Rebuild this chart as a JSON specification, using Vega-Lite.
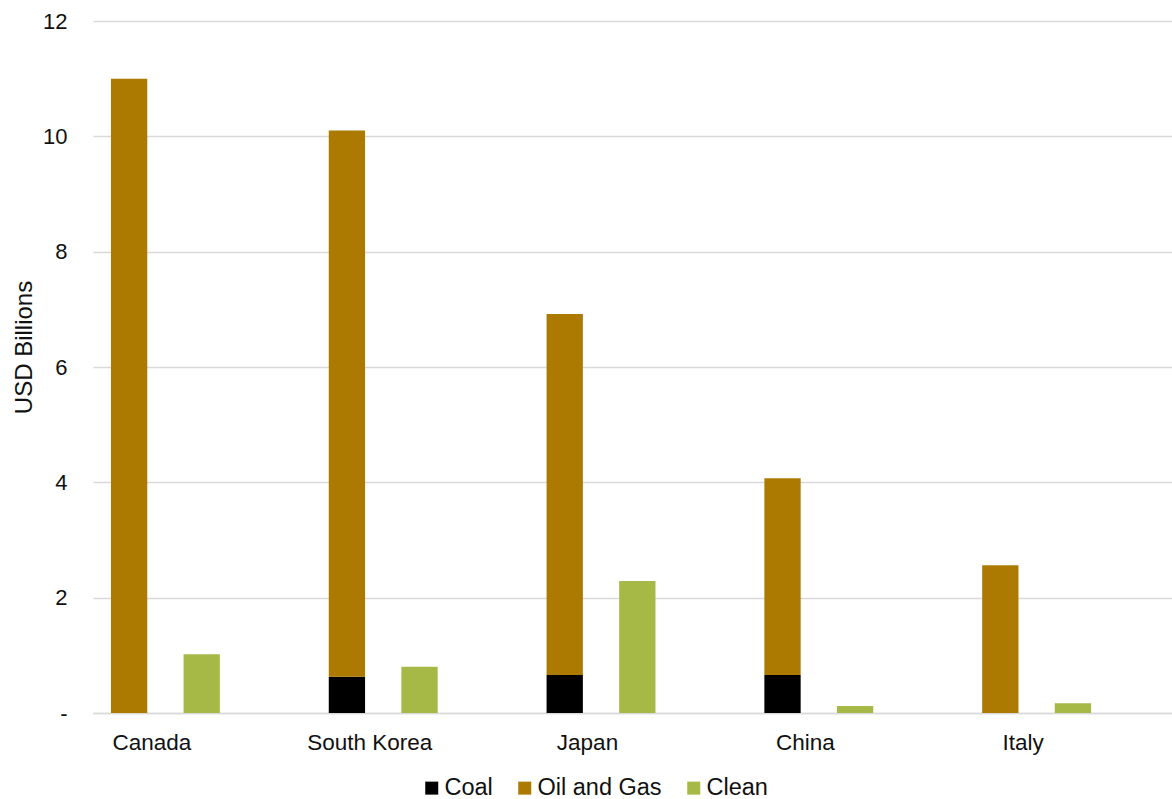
{
  "$schema": "https://vega.github.io/schema/vega-lite/v6.json",
  "width": 1079,
  "height": 692,
  "autosize": {"type": "none"},
  "padding": {"left": 93, "top": 21, "right": 0, "bottom": 86},
  "background": "white",
  "config": {"font": "Liberation Sans", "view": {"stroke": null}},
  "data": {
    "values": [
      {"country": "Canada", "type": "Oil and Gas", "group": "fossil", "value": 11.0},
      {"country": "Canada", "type": "Clean", "group": "clean", "value": 1.02},
      {"country": "South Korea", "type": "Coal", "group": "fossil", "value": 0.63},
      {"country": "South Korea", "type": "Oil and Gas", "group": "fossil", "value": 9.47},
      {"country": "South Korea", "type": "Clean", "group": "clean", "value": 0.80},
      {"country": "Japan", "type": "Coal", "group": "fossil", "value": 0.66},
      {"country": "Japan", "type": "Oil and Gas", "group": "fossil", "value": 6.26},
      {"country": "Japan", "type": "Clean", "group": "clean", "value": 2.29},
      {"country": "China", "type": "Coal", "group": "fossil", "value": 0.66},
      {"country": "China", "type": "Oil and Gas", "group": "fossil", "value": 3.41},
      {"country": "China", "type": "Clean", "group": "clean", "value": 0.12},
      {"country": "Italy", "type": "Oil and Gas", "group": "fossil", "value": 2.56},
      {"country": "Italy", "type": "Clean", "group": "clean", "value": 0.17}
    ]
  },
  "mark": {"type": "bar"},
  "encoding": {
    "x": {
      "field": "country",
      "type": "nominal",
      "sort": ["Canada", "South Korea", "Japan", "China", "Italy"],
      "scale": {"paddingInner": 0, "paddingOuter": 0, "range": [0, 1089]},
      "axis": {
        "title": null,
        "labelAngle": 0,
        "labelFontSize": 22.5,
        "labelColor": "#111111",
        "labelPadding": 18,
        "labelOffset": -50,
        "ticks": false,
        "tickSize": 0,
        "domainColor": "#d9d9d9",
        "domainWidth": 1.5,
        "grid": false
      }
    },
    "xOffset": {
      "field": "group",
      "type": "nominal",
      "sort": ["fossil", "clean"],
      "scale": {"paddingInner": 0.5, "paddingOuter": 0.75, "align": 0.165}
    },
    "y": {
      "field": "value",
      "type": "quantitative",
      "stack": "zero",
      "scale": {"domain": [0, 12]},
      "axis": {
        "values": [0, 2, 4, 6, 8, 10, 12],
        "title": "USD Billions",
        "titleFontSize": 24,
        "titleFontWeight": "normal",
        "titleColor": "#111111",
        "titleX": -62,
        "titleY": 326,
        "titleAlign": "center",
        "titleBaseline": "alphabetic",
        "titleAngle": -90,
        "labelExpr": "datum.value == 0 ? '-' : datum.label",
        "labelFontSize": 22,
        "labelColor": "#111111",
        "labelPadding": 26,
        "domain": false,
        "ticks": false,
        "tickSize": 0,
        "gridColor": "#d9d9d9",
        "gridWidth": 1.3
      }
    },
    "color": {
      "field": "type",
      "type": "nominal",
      "sort": ["Coal", "Oil and Gas", "Clean"],
      "scale": {"domain": ["Coal", "Oil and Gas", "Clean"], "range": ["#000000", "#AC7A00", "#A6B947"]},
      "legend": {
        "title": null,
        "orient": "none",
        "legendX": 327,
        "legendY": 755,
        "direction": "horizontal",
        "symbolType": "square",
        "symbolSize": 169,
        "symbolStrokeWidth": 0,
        "labelFontSize": 23.5,
        "labelColor": "#111111",
        "labelOffset": 1,
        "columnPadding": 20
      }
    },
    "order": {"field": "type", "type": "nominal", "sort": "ascending"}
  }
}
